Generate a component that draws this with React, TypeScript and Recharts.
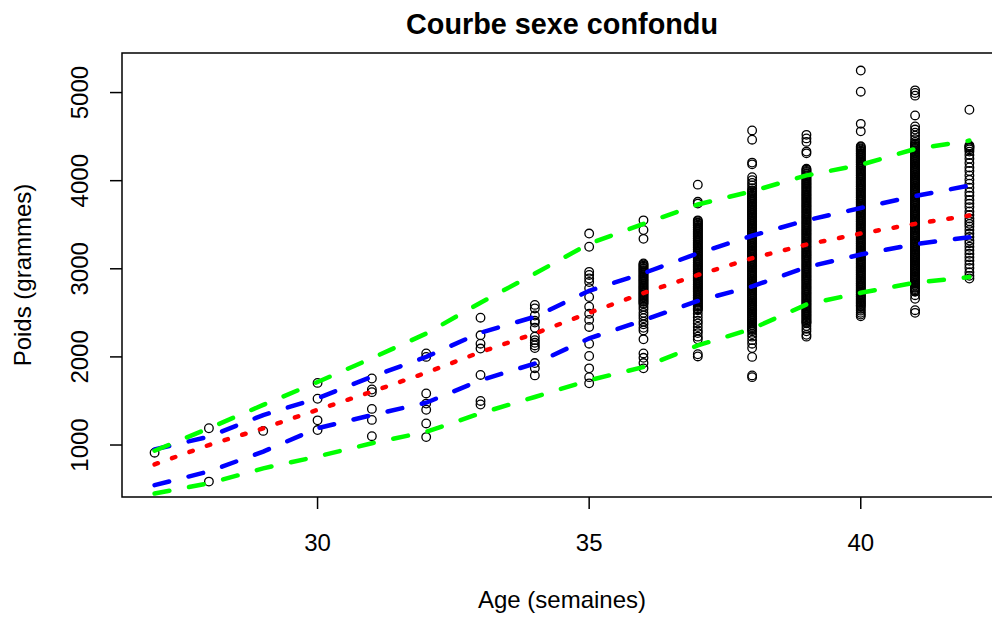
import React from 'react'
import { ComposedChart, Scatter, Line, XAxis, YAxis, ReferenceArea } from 'recharts'

// ages (semaines)
const ages = [27, 28, 29, 30, 31, 32, 33, 34, 35, 36, 37, 38, 39, 40, 41, 42]

// poids observés par âge (grammes)
const w27 = [913]
const w28 = [1190, 585]
const w29 = [1160]
const w30 = [1705, 1525, 1280, 1170]
const w31 = [1755, 1630, 1600, 1410, 1285, 1100]
const w32 = [2040, 2000, 1585, 1470, 1400, 1245, 1090]
const w33 = [2445, 2245, 2150, 2095, 1795, 1500, 1460]
const w34 = [2590, 2550, 2470, 2410, 2390, 2330, 2230, 2190, 2160, 2130, 2100, 1930, 1870, 1790]
const w35 = [3400, 3250, 2965, 2930, 2890, 2850, 2780, 2680, 2570, 2490, 2420, 2340, 2150, 2010, 1870, 1770, 1700]
const w36 = [
  3550, 3440, 3340,
  3060, 3050, 3035, 3025, 3010, 3000, 2985, 2975, 2960, 2950, 2935, 2925, 2910,
  2900, 2885, 2875, 2860, 2850, 2835, 2825, 2810, 2800, 2785, 2775, 2760, 2750,
  2735, 2725, 2710, 2700, 2685, 2675, 2660, 2650, 2635, 2625, 2610, 2600,
  2570, 2540, 2500, 2470, 2440, 2400, 2370, 2330, 2300, 2200, 2040, 1990, 1930, 1870,
]
const w37 = [
  3955, 3760, 3740,
  3550, 3540, 3525, 3515, 3500, 3490, 3475, 3465, 3450, 3440, 3425, 3415, 3400,
  3390, 3375, 3365, 3350, 3340, 3325, 3315, 3300, 3290, 3275, 3265, 3250, 3240,
  3225, 3215, 3200, 3190, 3175, 3165, 3150, 3140, 3125, 3115, 3100, 3090, 3075,
  3065, 3050, 3040, 3025, 3015, 3000, 2990, 2975, 2965, 2950, 2940, 2925, 2915,
  2900, 2890, 2875, 2865, 2850, 2840, 2825, 2815, 2800, 2790, 2775, 2765, 2750,
  2740, 2725, 2715, 2700, 2690, 2675, 2665, 2650, 2640, 2625, 2615, 2600, 2590,
  2575, 2565, 2550, 2540, 2530,
  2490, 2450, 2410, 2380, 2340, 2300, 2270, 2230, 2200, 2030, 2005,
]
const w38 = [
  4570, 4465, 4205, 4185, 4040, 4005, 3975, 3945, 3915,
  3890, 3880, 3865, 3855, 3840, 3830, 3815, 3805, 3790, 3780, 3765, 3755, 3740,
  3730, 3715, 3705, 3690, 3680, 3665, 3655, 3640, 3630, 3615, 3605, 3590, 3580,
  3565, 3555, 3540, 3530, 3515, 3505, 3490, 3480, 3465, 3455, 3440, 3430, 3415,
  3405, 3390, 3380, 3365, 3355, 3340, 3330, 3315, 3305, 3290, 3280, 3265, 3255,
  3240, 3230, 3215, 3205, 3190, 3180, 3165, 3155, 3140, 3130, 3115, 3105, 3090,
  3080, 3065, 3055, 3040, 3030, 3015, 3005, 2990, 2980, 2965, 2955, 2940, 2930,
  2915, 2905, 2890, 2880, 2865, 2855, 2840, 2830, 2815, 2805, 2790, 2780, 2765,
  2755, 2740, 2730, 2715, 2705, 2690, 2680, 2665, 2655, 2640, 2630, 2615, 2605,
  2590, 2580, 2565, 2555, 2540, 2530, 2515, 2505, 2490, 2480, 2465, 2455, 2440,
  2430, 2415, 2405, 2390, 2380, 2365, 2355, 2340, 2330, 2315, 2305, 2290,
  2260, 2230, 2190, 2150, 2100, 2000, 1790, 1770,
]
const w39 = [
  4520, 4480, 4440, 4330, 4310,
  4135, 4125, 4110, 4100, 4085, 4075, 4060, 4050, 4035, 4025, 4010, 4000, 3985,
  3975, 3960, 3950, 3935, 3925, 3910, 3900, 3885, 3875, 3860, 3850, 3835, 3825,
  3810, 3800, 3785, 3775, 3760, 3750, 3735, 3725, 3710, 3700, 3685, 3675, 3660,
  3650, 3635, 3625, 3610, 3600, 3585, 3575, 3560, 3550, 3535, 3525, 3510, 3500,
  3485, 3475, 3460, 3450, 3435, 3425, 3410, 3400, 3385, 3375, 3360, 3350, 3335,
  3325, 3310, 3300, 3285, 3275, 3260, 3250, 3235, 3225, 3210, 3200, 3185, 3175,
  3160, 3150, 3135, 3125, 3110, 3100, 3085, 3075, 3060, 3050, 3035, 3025, 3010,
  3000, 2985, 2975, 2960, 2950, 2935, 2925, 2910, 2900, 2885, 2875, 2860, 2850,
  2835, 2825, 2810, 2800, 2785, 2775, 2760, 2750, 2735, 2725, 2710, 2700, 2685,
  2675, 2660, 2650, 2635, 2625, 2610, 2600, 2585, 2575, 2560, 2550, 2535, 2525,
  2510, 2500, 2485, 2475, 2460, 2450, 2435, 2425, 2410, 2400, 2390, 2380,
  2350, 2320, 2290, 2250, 2230,
]
const w40 = [
  5250, 5010, 4645, 4560,
  4390, 4380, 4365, 4355, 4340, 4330, 4315, 4305, 4290, 4280, 4265, 4255, 4240,
  4230, 4215, 4205, 4190, 4180, 4165, 4155, 4140, 4130, 4115, 4105, 4090, 4080,
  4065, 4055, 4040, 4030, 4015, 4005, 3990, 3980, 3965, 3955, 3940, 3930, 3915,
  3905, 3890, 3880, 3865, 3855, 3840, 3830, 3815, 3805, 3790, 3780, 3765, 3755,
  3740, 3730, 3715, 3705, 3690, 3680, 3665, 3655, 3640, 3630, 3615, 3605, 3590,
  3580, 3565, 3555, 3540, 3530, 3515, 3505, 3490, 3480, 3465, 3455, 3440, 3430,
  3415, 3405, 3390, 3380, 3365, 3355, 3340, 3330, 3315, 3305, 3290, 3280, 3265,
  3255, 3240, 3230, 3215, 3205, 3190, 3180, 3165, 3155, 3140, 3130, 3115, 3105,
  3090, 3080, 3065, 3055, 3040, 3030, 3015, 3005, 2990, 2980, 2965, 2955, 2940,
  2930, 2915, 2905, 2890, 2880, 2865, 2855, 2840, 2830, 2815, 2805, 2790, 2780,
  2765, 2755, 2740, 2730, 2715, 2705, 2690, 2680, 2665, 2655, 2640, 2630, 2615,
  2605, 2590, 2580, 2565, 2545, 2525, 2500, 2480, 2460,
]
const w41 = [
  5025, 4995, 4965, 4740, 4615, 4580, 4545, 4510, 4470, 4440,
  4420, 4410, 4395, 4385, 4370, 4360, 4345, 4335, 4320, 4310, 4295, 4285, 4270,
  4260, 4245, 4235, 4220, 4210, 4195, 4185, 4170, 4160, 4145, 4135, 4120, 4110,
  4095, 4085, 4070, 4060, 4045, 4035, 4020, 4010, 3995, 3985, 3970, 3960, 3945,
  3935, 3920, 3910, 3895, 3885, 3870, 3860, 3845, 3835, 3820, 3810, 3795, 3785,
  3770, 3760, 3745, 3735, 3720, 3710, 3695, 3685, 3670, 3660, 3645, 3635, 3620,
  3610, 3595, 3585, 3570, 3560, 3545, 3535, 3520, 3510, 3495, 3485, 3470, 3460,
  3445, 3435, 3420, 3410, 3395, 3385, 3370, 3360, 3345, 3335, 3320, 3310, 3295,
  3285, 3270, 3260, 3245, 3235, 3220, 3210, 3195, 3185, 3170, 3160, 3145, 3135,
  3120, 3110, 3095, 3085, 3070, 3060, 3045, 3035, 3020, 3010, 2995, 2985, 2970,
  2960, 2945, 2935, 2920, 2910, 2895, 2885, 2870, 2860, 2845, 2835, 2820, 2810,
  2795, 2785, 2770, 2760, 2745, 2740,
  2700, 2660, 2530, 2500,
]
const w42 = [
  4805, 4400, 4390, 4380, 4370, 4355, 4330, 4290, 4250, 4200, 4150, 4110, 4060,
  4010, 3965, 3920, 3870, 3830, 3780, 3740, 3700, 3650, 3610, 3570, 3540, 3510,
  3480, 3440, 3400, 3360, 3320, 3290, 3250, 3210, 3170, 3130, 3090, 3050, 3010,
  2960, 2920, 2890,
]
const weightsByAge = [w27, w28, w29, w30, w31, w32, w33, w34, w35, w36, w37, w38, w39, w40, w41, w42]

// courbes de référence
const p97 = [935, 1190, 1455, 1715, 1985, 2265, 2615, 2945, 3285, 3510, 3730, 3880, 4060, 4180, 4360, 4455]
const p90 = [950, 1095, 1340, 1530, 1775, 2000, 2275, 2455, 2750, 2950, 3175, 3375, 3550, 3690, 3825, 3945]
const p50 = [780, 1000, 1190, 1400, 1605, 1820, 2055, 2265, 2500, 2725, 2930, 3120, 3275, 3400, 3510, 3605]
const p10 = [545, 700, 925, 1190, 1340, 1480, 1735, 1925, 2210, 2415, 2635, 2800, 3018, 3162, 3280, 3358]
const p3 = [450, 565, 735, 870, 1020, 1150, 1360, 1545, 1735, 1885, 2130, 2320, 2595, 2728, 2842, 2906]

const xTicks = [30, 35, 40]
const yTicks = [1000, 2000, 3000, 4000, 5000]

const curveRows = ages.map((age, i) => ({ age, p3: p3[i], p10: p10[i], p50: p50[i], p90: p90[i], p97: p97[i] }))
const points = ages.flatMap((age, i) => weightsByAge[i].map((poids) => ({ age, poids })))

const FONT = '"Liberation Sans", Arial, Helvetica, sans-serif'

function XTick(props: any) {
  const { x, y, payload } = props
  return (
    <text x={x} y={y + 42} textAnchor="middle" fontSize={24} fontFamily={FONT} fill="#000">
      {payload.value}
    </text>
  )
}

function YTick(props: any) {
  const { x, y, payload } = props
  const bx = x - 22
  return (
    <text x={bx} y={y} transform={`rotate(-90 ${bx} ${y})`} textAnchor="middle" fontSize={24} fontFamily={FONT} fill="#000">
      {payload.value}
    </text>
  )
}

const circle = (p: any) => <circle cx={p.cx} cy={p.cy} r={4.3} fill="none" stroke="#000" strokeWidth={1.3} />

const dashed = { strokeWidth: 4.5, strokeDasharray: '15 20', strokeLinecap: 'round' as const }

export default function App() {
  return (
    <div style={{ position: 'absolute', left: 0, top: 0, width: 992, height: 617, overflow: 'hidden', background: '#fff' }}>
      <ComposedChart width={1010} height={617} data={curveRows} margin={{ top: 53, right: 8, bottom: 0, left: 0 }}>
        <XAxis
          type="number"
          dataKey="age"
          domain={[26.4, 42.6]}
          allowDataOverflow
          ticks={xTicks}
          interval={0}
          height={120}
          axisLine={false}
          tickSize={12}
          tickMargin={0}
          tickLine={{ stroke: '#000', strokeWidth: 1.5 }}
          tick={(p: any) => <XTick {...p} />}
        />
        <YAxis
          type="number"
          domain={[410, 5449]}
          allowDataOverflow
          ticks={yTicks}
          interval={0}
          width={122}
          axisLine={false}
          tickSize={12}
          tickMargin={0}
          tickLine={{ stroke: '#000', strokeWidth: 1.5 }}
          tick={(p: any) => <YTick {...p} />}
        />
        <ReferenceArea x1={26.4} x2={42.6} y1={410} y2={5449} fill="none" stroke="#000" strokeWidth={1.5} ifOverflow="visible" />
        <Scatter data={points} dataKey="poids" shape={circle} isAnimationActive={false} zIndex={600} />
        <Line type="linear" dataKey="p90" stroke="#0000ff" {...dashed} dot={false} activeDot={false} isAnimationActive={false} zIndex={700} />
        <Line type="linear" dataKey="p10" stroke="#0000ff" {...dashed} dot={false} activeDot={false} isAnimationActive={false} zIndex={700} />
        <Line type="linear" dataKey="p97" stroke="#00ff00" {...dashed} dot={false} activeDot={false} isAnimationActive={false} zIndex={700} />
        <Line type="linear" dataKey="p3" stroke="#00ff00" {...dashed} dot={false} activeDot={false} isAnimationActive={false} zIndex={700} />
        <Line type="linear" dataKey="p50" stroke="#ff0000" strokeWidth={4.5} strokeDasharray="3.5 15" strokeLinecap="round" dot={false} activeDot={false} isAnimationActive={false} zIndex={700} />
      </ComposedChart>
      <svg width={992} height={617} style={{ position: 'absolute', left: 0, top: 0, pointerEvents: 'none' }}>
        <text x={562} y={34} textAnchor="middle" fontSize={28.8} fontWeight="bold" fontFamily={FONT} fill="#000">
          Courbe sexe confondu
        </text>
        <text x={562} y={608} textAnchor="middle" fontSize={24} fontFamily={FONT} fill="#000">
          Age (semaines)
        </text>
        <text x={31} y={275} transform="rotate(-90 31 275)" textAnchor="middle" fontSize={24} fontFamily={FONT} fill="#000">
          Poids (grammes)
        </text>
      </svg>
    </div>
  )
}
